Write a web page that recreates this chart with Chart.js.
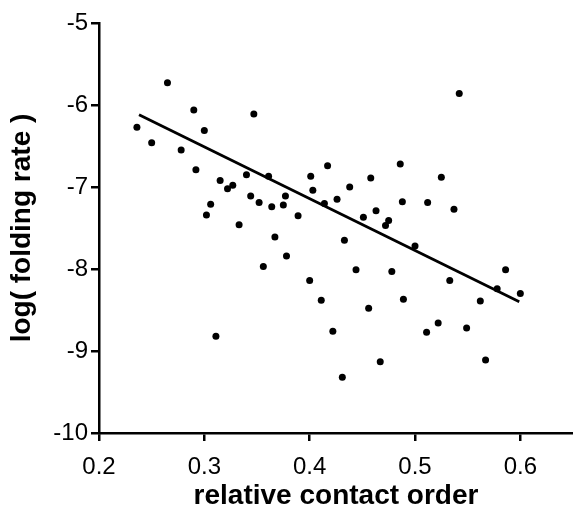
<!DOCTYPE html>
<html>
<head>
<meta charset="utf-8">
<script src="https://cdn.jsdelivr.net/npm/chart.js@4/dist/chart.umd.min.js"></script>
<style>
    html, body { margin: 0; padding: 0; background: #fff; }
    #wrap { width: 573px; height: 519px; }
</style>
</head>
<body>
<div id="wrap"><canvas id="rateChart" width="573" height="519"></canvas></div>
<script>
const contactOrder = [
    0.265, 0.236, 0.250, 0.290, 0.300, 0.347, 0.278, 0.292, 0.315, 0.322,
    0.327, 0.340, 0.306, 0.344, 0.352, 0.361, 0.401, 0.417, 0.403, 0.438,
    0.458, 0.486, 0.488, 0.426, 0.414, 0.364, 0.375, 0.377, 0.463, 0.389,
    0.451, 0.475, 0.472, 0.500, 0.367, 0.378, 0.356, 0.433, 0.444, 0.478,
    0.400, 0.411, 0.456, 0.489, 0.422, 0.467, 0.431, 0.302, 0.333, 0.311,
    0.512, 0.537, 0.586, 0.533, 0.578, 0.600, 0.562, 0.522, 0.511, 0.549,
    0.567, 0.542, 0.525
];
const logRate = [
    -5.73, -6.27, -6.46, -6.06, -6.31, -6.11, -6.55, -6.79, -6.92, -7.02,
    -6.98, -6.85, -7.21, -7.11, -7.19, -6.87, -6.87, -6.74, -7.04, -7.00,
    -6.89, -6.72, -7.18, -7.15, -7.20, -7.24, -7.22, -7.11, -7.29, -7.35,
    -7.37, -7.41, -7.47, -7.72, -7.61, -7.84, -7.97, -7.65, -8.01, -8.03,
    -8.14, -8.38, -8.48, -8.37, -8.76, -9.13, -9.32, -7.34, -7.46, -8.82,
    -7.19, -7.27, -8.01, -8.14, -8.24, -8.30, -8.39, -8.66, -8.77, -8.72,
    -9.11, -5.86, -6.88
];
// fitted line end points
const fitX = [0.238, 0.599];
const fitY = [-6.12, -8.40];

const xTicks = [0.2, 0.3, 0.4, 0.5, 0.6];
const yTicks = [-10, -9, -8, -7, -6, -5];

const font = "'Liberation Sans', Arial, Helvetica, sans-serif";

const ctx = document.getElementById('rateChart').getContext('2d');
new Chart(ctx, {
    type: 'scatter',
    data: {
        datasets: [
            {
                data: contactOrder.map((x, i) => ({ x, y: logRate[i] })),
                backgroundColor: '#000',
                borderWidth: 0,
                pointRadius: 3.5
            },
            {
                data: fitX.map((x, i) => ({ x, y: fitY[i] })),
                showLine: true,
                borderColor: '#000',
                borderWidth: 2.8,
                pointRadius: 0
            }
        ]
    },
    options: {
        responsive: false,
        animation: false,
        layout: { autoPadding: false, padding: { top: 23, right: 0, left: 0, bottom: 0 } },
        plugins: {
            legend: { display: false },
            tooltip: { enabled: false }
        },
        scales: {
            x: {
                type: 'linear',
                min: 0.2,
                max: 0.65,
                afterFit: scale => { scale.height = 86; },
                afterBuildTicks: scale => { scale.ticks = xTicks.map(v => ({ value: v })); },
                border: { display: true, color: '#000', width: 2.5 },
                grid: { display: true, drawOnChartArea: false, drawTicks: true, tickLength: 8, color: '#000', lineWidth: 2.5 },
                ticks: {
                    color: '#000',
                    padding: 12,
                    font: { family: font, size: 24 },
                    callback: v => v.toFixed(1)
                },
                title: {
                    display: true,
                    text: 'relative contact order',
                    color: '#000',
                    font: { family: font, size: 28, weight: 'bold' },
                    padding: { top: 0, bottom: 6 }
                }
            },
            y: {
                type: 'linear',
                min: -10,
                max: -5,
                afterFit: scale => { scale.width = 99; },
                afterBuildTicks: scale => { scale.ticks = yTicks.map(v => ({ value: v })); },
                border: { display: true, color: '#000', width: 2.5 },
                grid: { display: true, drawOnChartArea: false, drawTicks: true, tickLength: 8, color: '#000', lineWidth: 2.5 },
                ticks: {
                    color: '#000',
                    padding: 3,
                    font: { family: font, size: 24 },
                    callback: v => String(v)
                },
                title: {
                    display: true,
                    text: 'log( folding rate )',
                    color: '#000',
                    font: { family: font, size: 28, weight: 'bold' },
                    padding: { top: 5, bottom: 0 }
                }
            }
        }
    }
});
</script>
</body>
</html>
